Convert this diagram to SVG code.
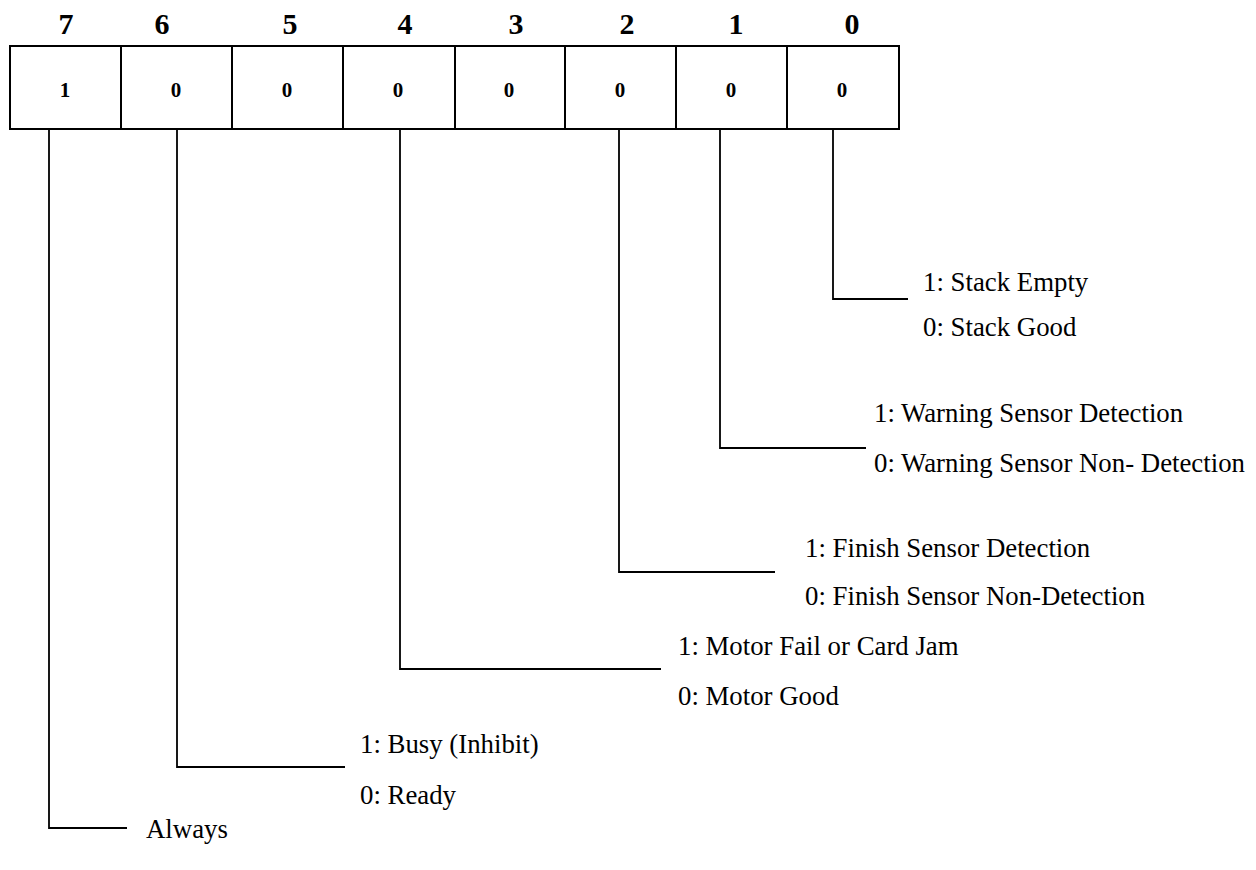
<svg xmlns="http://www.w3.org/2000/svg" width="1256" height="870" viewBox="0 0 1256 870">
<style>
.hdr{font-family:"Liberation Serif",serif;font-weight:bold;font-size:30px;text-anchor:middle}
.val{font-family:"Liberation Serif",serif;font-weight:bold;font-size:21px;text-anchor:middle}
.lbl{font-family:"Liberation Serif",serif;font-size:26.8px}
.cell{fill:#fff;stroke:#000;stroke-width:2}
.wire{fill:none;stroke:#000;stroke-width:1.8}
</style>
<rect width="1256" height="870" fill="#fff"/>
<g id="register">
<g id="bit7"><rect class="cell" x="10" y="46" width="111" height="83"/><text class="hdr" x="66" y="34">7</text><text class="val" x="65" y="97">1</text></g>
<g id="bit6"><rect class="cell" x="121" y="46" width="111" height="83"/><text class="hdr" x="162" y="34">6</text><text class="val" x="176" y="97">0</text></g>
<g id="bit5"><rect class="cell" x="232" y="46" width="111" height="83"/><text class="hdr" x="290" y="34">5</text><text class="val" x="287" y="97">0</text></g>
<g id="bit4"><rect class="cell" x="343" y="46" width="112" height="83"/><text class="hdr" x="405" y="34">4</text><text class="val" x="398" y="97">0</text></g>
<g id="bit3"><rect class="cell" x="455" y="46" width="110" height="83"/><text class="hdr" x="516" y="34">3</text><text class="val" x="509" y="97">0</text></g>
<g id="bit2"><rect class="cell" x="565" y="46" width="111" height="83"/><text class="hdr" x="627" y="34">2</text><text class="val" x="620" y="97">0</text></g>
<g id="bit1"><rect class="cell" x="676" y="46" width="111" height="83"/><text class="hdr" x="736" y="34">1</text><text class="val" x="731" y="97">0</text></g>
<g id="bit0"><rect class="cell" x="787" y="46" width="112" height="83"/><text class="hdr" x="852" y="34">0</text><text class="val" x="842" y="97">0</text></g>
</g>
<g id="connectors">
<polyline class="wire" points="833,129 833,299 908,299"/>
<polyline class="wire" points="720,129 720,448 866,448"/>
<polyline class="wire" points="619,129 619,572 775,572"/>
<polyline class="wire" points="400,129 400,669 661,669"/>
<polyline class="wire" points="177,129 177,767 345,767"/>
<polyline class="wire" points="49,129 49,828 127,828"/>
</g>
<g id="label-bit0"><text class="lbl" x="923" y="291">1: Stack Empty</text><text class="lbl" x="923" y="336">0: Stack Good</text></g>
<g id="label-bit1"><text class="lbl" x="874" y="422">1: Warning Sensor Detection</text><text class="lbl" x="874" y="472">0: Warning Sensor Non- Detection</text></g>
<g id="label-bit2"><text class="lbl" x="805" y="557">1: Finish Sensor Detection</text><text class="lbl" x="805" y="605">0: Finish Sensor Non-Detection</text></g>
<g id="label-bit4"><text class="lbl" x="678" y="655">1: Motor Fail or Card Jam</text><text class="lbl" x="678" y="705">0: Motor Good</text></g>
<g id="label-bit6"><text class="lbl" x="360" y="753">1: Busy (Inhibit)</text><text class="lbl" x="360" y="804">0: Ready</text></g>
<g id="label-bit7"><text class="lbl" x="146" y="838">Always</text></g>
</svg>
